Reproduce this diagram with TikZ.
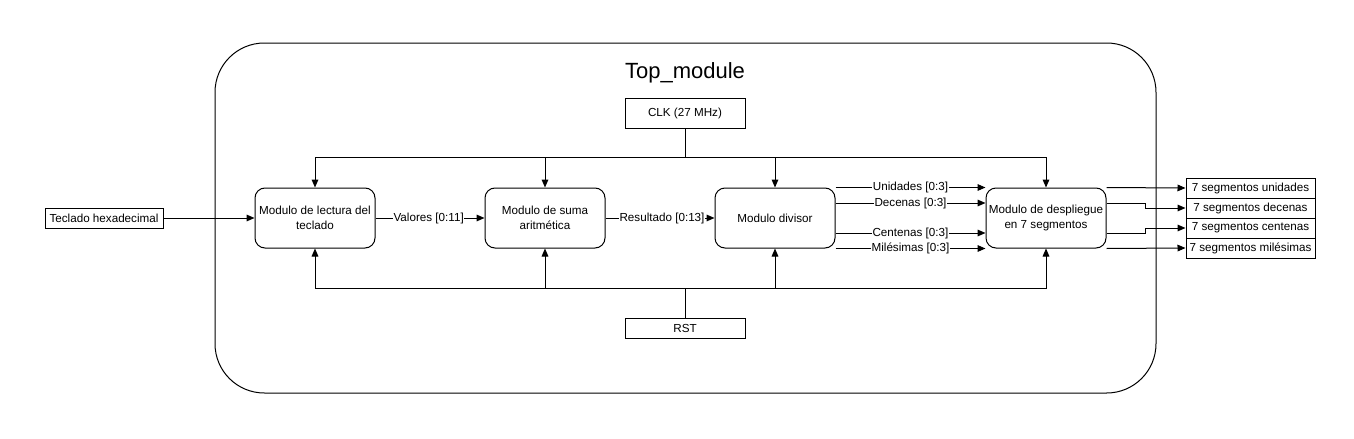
\documentclass[tikz,border=0pt]{standalone}
\usepackage{fontspec}
\setmainfont{Liberation Sans}
\usetikzlibrary{arrows.meta,calc}
\begin{document}
\begin{tikzpicture}[x=0.75pt,y=-0.75pt,
  every node/.style={font=\fontsize{8.75}{11}\selectfont},
  mod/.style={draw, rounded corners=7.5pt, minimum width=90pt, minimum height=45pt, align=center, inner sep=1pt},
  sbox/.style={draw, minimum width=90pt, inner sep=1pt},
  port/.style={draw, minimum height=15pt, inner sep=1.5pt},
  lbl/.style={fill=white, inner sep=0.5pt},
  arr/.style={-{Triangle[length=6pt,width=5pt]}},
  line width=0.75pt]
\useasboundingbox (0,0) rectangle (1354,439);
\draw[rounded corners=37pt] (215,43) rectangle (1156,393);
\node (title) at (685,73) {\fontsize{16.5}{19}\selectfont Top\_module};
\node[sbox, minimum height=22.5pt] (clk) at (685,113) {CLK (27 MHz)};
\node[sbox, minimum height=15pt] (rst) at (685,328) {RST};
\node[mod] (m1) at (315,218) {Modulo de lectura del\\teclado};
\node[mod] (m2) at (545,218) {Modulo de suma\\aritmética};
\node[mod] (m3) at (775,218) {Modulo divisor};
\node[mod] (m4) at (1046,218) {Modulo de despliegue\\en 7 segmentos};
\node[port, minimum width=88.5pt] (tec) at (104,218) {Teclado hexadecimal};
\node[port, minimum width=96.75pt] (o1) at (1250.5,188) {7 segmentos unidades};
\node[port, minimum width=96.75pt] (o2) at (1250.5,208) {7 segmentos decenas};
\node[port, minimum width=96.75pt] (o3) at (1250.5,228) {7 segmentos centenas};
\node[port, minimum width=96.75pt] (o4) at (1250.5,248) {7 segmentos milésimas};
% clock and reset
\foreach \m in {m1,m2,m3,m4} {
  \draw[arr] (clk.south) -- ++(0,29) -| (\m.north);
  \draw[arr] (rst.north) -- ++(0,-29) -| (\m.south);
}
% data path
\draw[arr] (tec) -- (m1);
\draw[arr] (m1) -- node[lbl, xshift=-1pt] {Valores [0:11]} (m2);
\draw[arr] (m2) -- node[lbl, xshift=1.5pt] {Resultado [0:13]} (m3);
\draw[arr] (m3.north east) -- node[lbl] {Unidades [0:3]} (m4.north west);
\draw[arr] ([yshift=11.25pt]m3.east) -- node[lbl] {Decenas [0:3]} ([yshift=11.25pt]m4.west);
\draw[arr] ([yshift=-11.25pt]m3.east) -- node[lbl] {Centenas [0:3]} ([yshift=-11.25pt]m4.west);
\draw[arr] (m3.south east) -- node[lbl] {Milésimas [0:3]} (m4.south west);
% outputs
\draw[arr] (m4.north east) -- (o1.west);
\draw[arr] ([yshift=11.25pt]m4.east) -- ++(39,0) |- (o2.west);
\draw[arr] ([yshift=-11.25pt]m4.east) -- ++(39,0) |- (o3.west);
\draw[arr] (m4.south east) -- (o4.west);
\end{tikzpicture}
\end{document}
